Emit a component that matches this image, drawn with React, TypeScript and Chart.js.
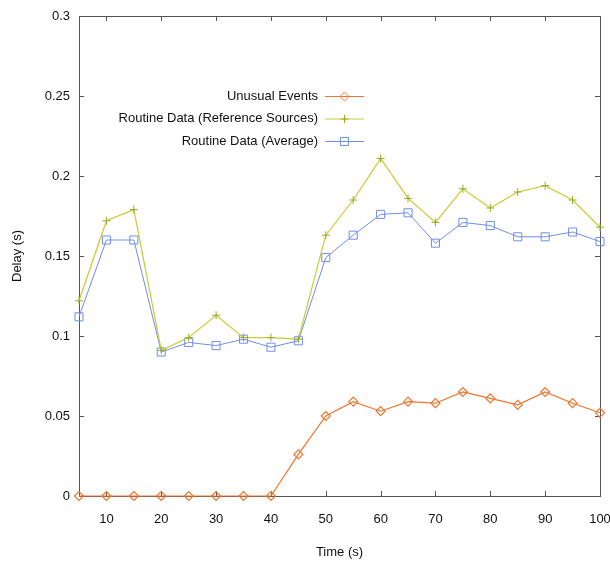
import React, { useEffect, useRef } from "react";
import { Chart, registerables } from "chart.js";

Chart.register(...registerables);

const times = [5, 10, 15, 20, 25, 30, 35, 40, 45, 50, 55, 60, 65, 70, 75, 80, 85, 90, 95, 100];
const unusualEvents = [0, 0, 0, 0, 0, 0, 0, 0, 0.026, 0.05, 0.059, 0.053, 0.059, 0.058, 0.065, 0.061, 0.057, 0.065, 0.058, 0.052];
const routineReference = [0.122, 0.172, 0.179, 0.091, 0.099, 0.113, 0.099, 0.099, 0.098, 0.163, 0.185, 0.211, 0.186, 0.171, 0.192, 0.18, 0.19, 0.194, 0.185, 0.168];
const routineAverage = [0.112, 0.16, 0.16, 0.09, 0.096, 0.094, 0.098, 0.093, 0.097, 0.149, 0.163, 0.176, 0.177, 0.158, 0.171, 0.169, 0.162, 0.162, 0.165, 0.159];
const seriesNames = ["Unusual Events", "Routine Data (Reference Sources)", "Routine Data (Average)"];
const xTickValues = [10, 20, 30, 40, 50, 60, 70, 80, 90, 100];
const yTickValues = [0, 0.05, 0.1, 0.15, 0.2, 0.25, 0.3];
const yTickLabels = ["0", "0.05", "0.1", "0.15", "0.2", "0.25", "0.3"];

const ORANGE = "rgb(238,118,48)";
const YELLOW = "rgb(200,204,50)";
const YELLOW_PT = "rgb(150,170,40)";
const BLUE = "rgb(112,142,232)";
const AXIS = "#555";
const TEXT = "#111";
const FONT = "'Liberation Sans', Arial, sans-serif";
const FSIZE = 13;

function toPoints(vals: number[]) {
  return times.map((t, i) => ({ x: t, y: vals[i] }));
}

function drawMarker(ctx: CanvasRenderingContext2D, style: string, x: number, y: number, r: number) {
  ctx.beginPath();
  if (style === "rectRot") {
    ctx.moveTo(x, y - r);
    ctx.lineTo(x + r, y);
    ctx.lineTo(x, y + r);
    ctx.lineTo(x - r, y);
    ctx.closePath();
  } else if (style === "cross") {
    ctx.moveTo(x - r, y);
    ctx.lineTo(x + r, y);
    ctx.moveTo(x, y - r);
    ctx.lineTo(x, y + r);
  } else {
    const s = r * Math.SQRT1_2;
    ctx.rect(x - s, y - s, 2 * s, 2 * s);
  }
  ctx.stroke();
}

const framePlugin = {
  id: "frameTicks",
  beforeDatasetsDraw(chart: any) {
    const { ctx, chartArea: a, scales } = chart;
    const xs = scales.x;
    const ys = scales.y;
    ctx.save();
    ctx.strokeStyle = AXIS;
    ctx.lineWidth = 1;
    ctx.strokeRect(Math.round(a.left) + 0.5, Math.round(a.top) + 0.5, Math.round(a.right - a.left), Math.round(a.bottom - a.top));
    const L = 5;
    ctx.beginPath();
    xTickValues.forEach((v) => {
      const px = Math.round(xs.getPixelForValue(v)) + 0.5;
      ctx.moveTo(px, a.bottom);
      ctx.lineTo(px, a.bottom - L);
      ctx.moveTo(px, a.top);
      ctx.lineTo(px, a.top + L);
    });
    yTickValues.forEach((v) => {
      const py = Math.round(ys.getPixelForValue(v)) + 0.5;
      ctx.moveTo(a.left, py);
      ctx.lineTo(a.left + L, py);
      ctx.moveTo(a.right, py);
      ctx.lineTo(a.right - L, py);
    });
    ctx.stroke();
    ctx.restore();
  },
  afterDatasetsDraw(chart: any) {
    const { ctx } = chart;
    const textRight = 318;
    const lineStart = 325;
    const lineEnd = 364;
    const rows = [96, 118.5, 141];
    ctx.save();
    ctx.font = `${FSIZE}px ${FONT}`;
    ctx.textAlign = "right";
    ctx.textBaseline = "middle";
    chart.data.datasets.forEach((ds: any, i: number) => {
      const y = rows[i];
      ctx.fillStyle = TEXT;
      ctx.fillText(ds.label, textRight, y);
      ctx.strokeStyle = ds.borderColor;
      ctx.lineWidth = 1;
      ctx.beginPath();
      ctx.moveTo(lineStart, y + 0.5);
      ctx.lineTo(lineEnd, y + 0.5);
      ctx.stroke();
      ctx.strokeStyle = ds.pointBorderColor;
      drawMarker(ctx, ds.pointStyle, (lineStart + lineEnd) / 2, y + 0.5, ds.pointRadius);
    });
    ctx.restore();
  },
};

export default function App() {
  const ref = useRef<HTMLCanvasElement | null>(null);
  useEffect(() => {
    document.body.style.margin = "0";
    const canvas = ref.current;
    if (!canvas) return;
    const chart = new Chart(canvas, {
      type: "line",
      data: {
        datasets: [
          {
            label: seriesNames[0],
            data: toPoints(unusualEvents),
            borderColor: ORANGE,
            borderWidth: 1.2,
            pointStyle: "rectRot",
            pointRadius: 4.5,
            pointBorderColor: ORANGE,
            pointBackgroundColor: "rgba(255,255,255,0)",
            pointBorderWidth: 1.2,
            clip: false as any,
          },
          {
            label: seriesNames[1],
            data: toPoints(routineReference),
            borderColor: YELLOW,
            borderWidth: 1.2,
            pointStyle: "cross",
            pointRadius: 4,
            pointBorderColor: YELLOW_PT,
            pointBackgroundColor: "rgba(255,255,255,0)",
            pointBorderWidth: 1,
            clip: false as any,
          },
          {
            label: seriesNames[2],
            data: toPoints(routineAverage),
            borderColor: BLUE,
            borderWidth: 1,
            pointStyle: "rect",
            pointRadius: 5.7,
            pointBorderColor: BLUE,
            pointBackgroundColor: "rgba(255,255,255,0)",
            pointBorderWidth: 1,
            clip: false as any,
          },
        ],
      },
      options: {
        animation: false,
        responsive: false,
        maintainAspectRatio: false,
        layout: { padding: { top: 16, right: 10, left: 0, bottom: 0 } },
        plugins: { legend: { display: false }, tooltip: { enabled: false } },
        elements: { line: { tension: 0 } },
        scales: {
          x: {
            type: "linear",
            min: 5,
            max: 100,
            afterBuildTicks: (s: any) => {
              s.ticks = xTickValues.map((v) => ({ value: v }));
            },
            afterFit: (s: any) => {
              s.height = 67;
              s.paddingLeft = 0;
              s.paddingRight = 0;
            },
            grid: { display: false, drawTicks: false },
            border: { display: false },
            ticks: { padding: 16, color: TEXT, font: { size: FSIZE, family: FONT }, maxRotation: 0 },
            title: { display: true, text: "Time (s)", color: TEXT, font: { size: FSIZE, family: FONT }, padding: { top: 0, bottom: 3 } },
          },
          y: {
            type: "linear",
            min: 0,
            max: 0.3,
            afterBuildTicks: (s: any) => {
              s.ticks = yTickValues.map((v) => ({ value: v }));
            },
            afterFit: (s: any) => {
              s.width = 79;
              s.paddingTop = 0;
              s.paddingBottom = 0;
            },
            grid: { display: false, drawTicks: false },
            border: { display: false },
            ticks: {
              padding: 9,
              color: TEXT,
              font: { size: FSIZE, family: FONT },
              callback: (v: any) => {
                const i = yTickValues.findIndex((t) => Math.abs(t - Number(v)) < 1e-9);
                return i >= 0 ? yTickLabels[i] : "";
              },
            },
            title: { display: true, text: "Delay (s)", color: TEXT, font: { size: FSIZE, family: FONT }, padding: { top: 10, bottom: 0 } },
          },
        },
      },
      plugins: [framePlugin],
    });
    return () => chart.destroy();
  }, []);
  return <canvas ref={ref} width={610} height={563} style={{ display: "block", width: 610, height: 563 }} />;
}
